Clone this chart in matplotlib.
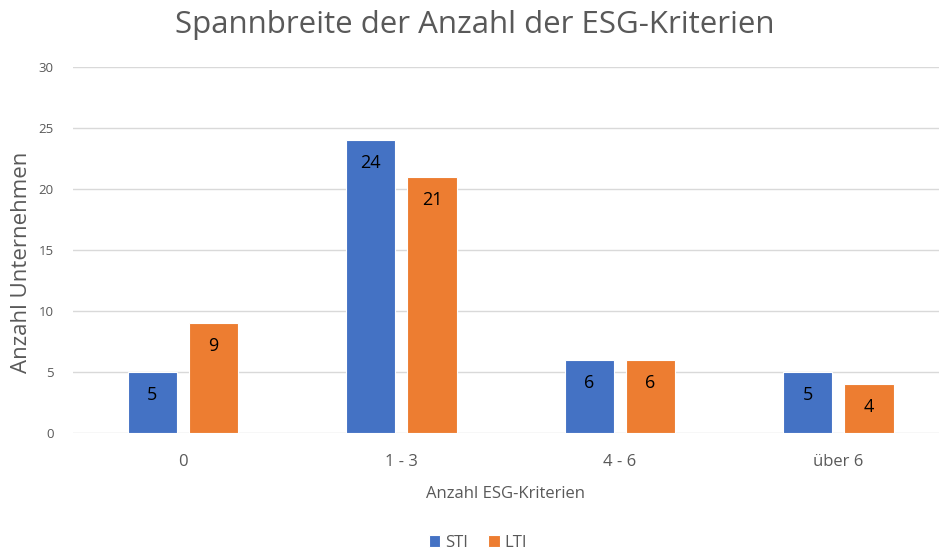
import matplotlib.pyplot as plt
import numpy as np

categories = ["0", "1 - 3", "4 - 6", "über 6"]
sti = [5, 24, 6, 5]
lti = [9, 21, 6, 4]

BLUE = "#4472C4"
ORANGE = "#ED7D31"
GREY = "#595959"

plt.rcParams["font.family"] = ["Open Sans", "DejaVu Sans"]

DPI = 100
fig = plt.figure(figsize=(939 / DPI, 555 / DPI), dpi=DPI)
ax = fig.add_axes([73 / 939, 1 - 433 / 555, 1 - 73 / 939, (433 - 67) / 555])

x = np.arange(len(categories))
w = 0.225
off = 0.14
b1 = ax.bar(x - off, sti, w, color=BLUE, edgecolor="white", linewidth=0.8, label="STI", zorder=3)
b2 = ax.bar(x + off, lti, w, color=ORANGE, edgecolor="white", linewidth=0.8, label="LTI", zorder=3)

for bars in (b1, b2):
    for r in bars:
        ax.annotate(f"{int(r.get_height())}", (r.get_x() + r.get_width() / 2, r.get_height()),
                    xytext=(0, -10), textcoords="offset points", ha="center", va="top",
                    fontsize=13, color="black", zorder=4)

ax.set_xlim(-0.503, 3.46)
ax.set_ylim(0, 30)
ax.set_yticks(range(0, 31, 5))
ax.set_xticks(x)
ax.set_xticklabels(categories, fontsize=12, color=GREY)
ax.tick_params(axis="y", labelsize=9.5, labelcolor=GREY, length=0, pad=14)
ax.tick_params(axis="x", length=0, pad=15)
ax.grid(axis="y", color="#D9D9D9", linewidth=1, zorder=0)
for s in ax.spines.values():
    s.set_visible(False)

ax.set_xlabel("Anzahl ESG-Kriterien", fontsize=12, color=GREY, labelpad=12)
fig.text(22 / 939, 1 - 262 / 555, "Anzahl Unternehmen", rotation=90, ha="center", va="center",
         fontsize=16, color=GREY)
fig.text(475 / 939, 1 - 25 / 555, "Spannbreite der Anzahl der ESG-Kriterien", ha="center",
         va="center", fontsize=22.5, color=GREY)

fig.legend(handles=[b1, b2], loc="center", bbox_to_anchor=(478 / 939, 1 - 543 / 555), ncol=2,
           frameon=False, fontsize=12, labelcolor=GREY, handlelength=0.7, handleheight=0.7,
           handletextpad=0.3, columnspacing=1.2)

fig.savefig("out.png", dpi=DPI)
